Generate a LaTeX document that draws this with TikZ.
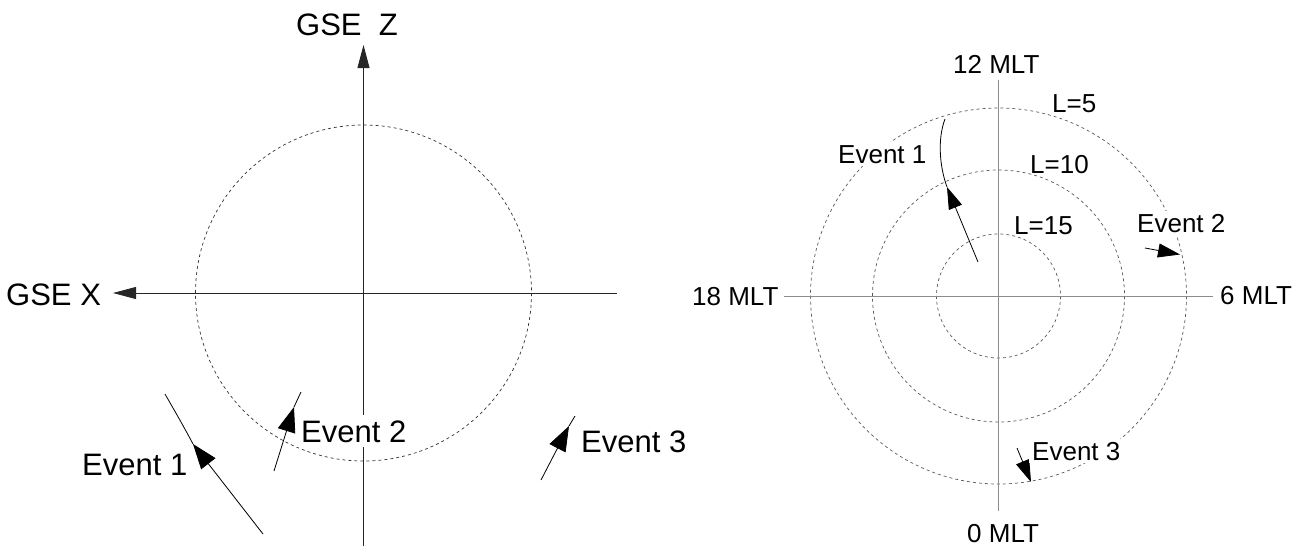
\documentclass[tikz,border=0pt]{standalone}
\usepackage{fontspec}
\setmainfont{Liberation Sans}
\usetikzlibrary{arrows.meta}
\begin{document}
\begin{tikzpicture}[x=1pt,y=-1pt,
  axisL/.style={line width=0.9pt, draw=black!85},
  axisR/.style={line width=0.9pt, draw=black!45},
  ringL/.style={dash pattern=on 3pt off 3pt, line width=0.7pt, draw=black!80},
  ringR/.style={dash pattern=on 3pt off 3pt, line width=0.7pt, draw=black!65},
  evline/.style={line width=0.8pt},
  bigtip/.style={-{Triangle[length=23pt,width=12pt]}},
  evtipL/.style={-{Triangle[length=25pt,width=18pt]}},
  evtipR/.style={-{Triangle[length=22pt,width=14pt]}},
  lblL/.style={font=\fontsize{31}{31}\selectfont, inner sep=0pt, anchor=base west},
  lblR/.style={font=\fontsize{26}{26}\selectfont, inner sep=0pt, anchor=base west},
  boxL/.style={lblL, fill=white, inner sep=5pt},
  boxR/.style={lblR, fill=white, inner sep=3pt}
]
\useasboundingbox (0,0) rectangle (1309,547);

% ---------------- left panel ----------------
\coordinate (lc) at (363.5,293);
\coordinate (lzb) at (363.5,546);
\coordinate (lzt) at (363.5,45);
\coordinate (lxr) at (617,293);
\coordinate (lxt) at (113,293);
\draw[ringL] (lc) circle[radius=168];
\draw[axisL] (lzb) -- (lc);
\draw[axisL,bigtip] (lc) -- (lzt);
\draw[axisL] (lxr) -- (lc);
\draw[axisL,bigtip] (lc) -- (lxt);

% events (left)
\coordinate (l1a) at (263,534);
\coordinate (l1t) at (193,444);
\coordinate (l1b) at (165,394);
\draw[evline,evtipL] (l1a) -- (l1t);
\draw[evline] (l1t) .. controls (183,425) and (173,408) .. (l1b);

\coordinate (l2a) at (274,471);
\coordinate (l2t) at (294,407);
\coordinate (l2b) at (301,392);
\draw[evline,evtipL] (l2a) -- (l2t);
\draw[evline] (l2t) -- (l2b);

\coordinate (l3a) at (541,480);
\coordinate (l3t) at (569,426);
\coordinate (l3b) at (575,416);
\draw[evline,evtipL] (l3a) -- (l3t);
\draw[evline] (l3t) -- (l3b);

\node[lblL] (gsez) at (296,35) {GSE\ \ Z};
\node[lblL] (gsex) at (6,305) {GSE X};
\node[boxL] (lev1) at (77,475) {Event 1};
\node[boxL] (lev2) at (296,442) {Event 2};
\node[boxL] (lev3) at (576,452) {Event 3};

% ---------------- right panel ----------------
\coordinate (rc) at (998.5,296);
\coordinate (rt) at (998.5,80);
\coordinate (rb) at (998.5,511);
\coordinate (rl) at (784,296);
\coordinate (rr) at (1213,296);
\draw[ringR] (rc) circle[radius=188];
\draw[ringR] (rc) circle[radius=126];
\draw[ringR] (rc) circle[radius=62];
\draw[axisR] (rt) -- (rb);
\draw[axisR] (rl) -- (rr);

% events (right)
\coordinate (r1a) at (978,262);
\coordinate (r1t) at (947,187);
\coordinate (r1b) at (945,119);
\draw[evline,evtipR] (r1a) -- (r1t);
\draw[evline] (r1t) .. controls (940,168) and (937,140) .. (r1b);

\coordinate (r2a) at (1145,248);
\coordinate (r2t) at (1180,254.5);
\draw[evline,evtipR] (r2a) -- (r2t);

\coordinate (r3a) at (1017,448);
\coordinate (r3t) at (1031,482);
\draw[evline,evtipR] (r3a) -- (r3t);

\node[lblR] (m12) at (953,73) {12 MLT};
\node[lblR] (m18) at (692,305) {18 MLT};
\node[lblR] (m6) at (1220,304) {6 MLT};
\node[lblR] (m0) at (967,542) {0 MLT};
\node[lblR] (l5) at (1052,112) {L=5};
\node[lblR] (l10) at (1030,173) {L=10};
\node[lblR] (l15) at (1014,234) {L=15};
\node[boxR] (rev1) at (835,163) {Event 1};
\node[boxR] (rev2) at (1134,232) {Event 2};
\node[boxR] (rev3) at (1029,460) {Event 3};
\end{tikzpicture}
\end{document}
